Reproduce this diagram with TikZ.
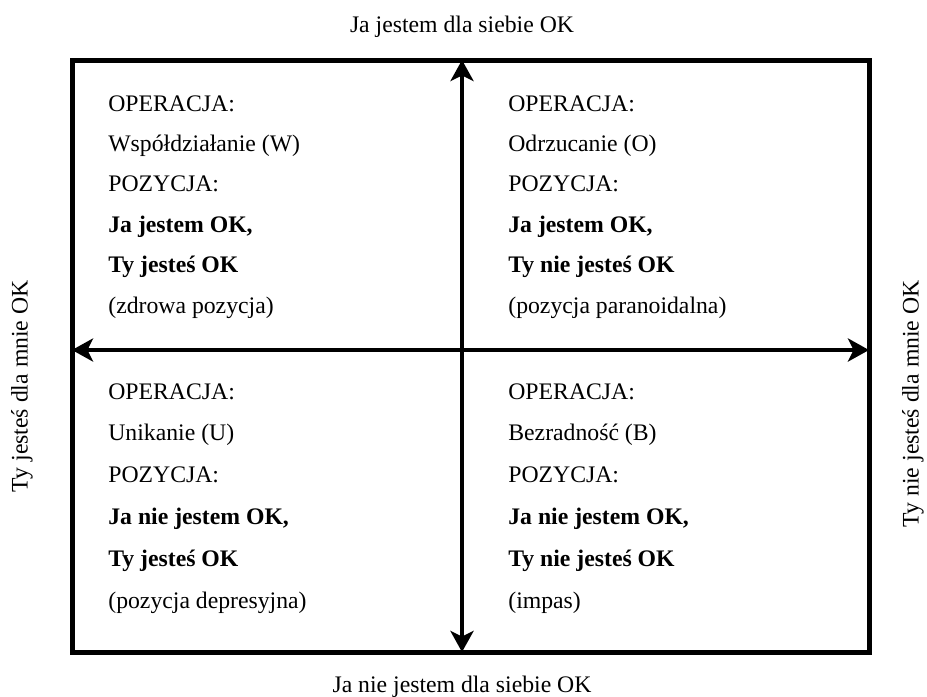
\documentclass[tikz,border=0pt]{standalone}
\usepackage{fontspec}
\setmainfont{Liberation Serif}
\usepackage{tikz}
\usetikzlibrary{arrows.meta, positioning}

\begin{document}
\begin{tikzpicture}[
    x=0.2mm, y=-0.2mm,
    frame/.style={draw=black, line width=1mm},
    arr/.style={draw=black, line width=0.8mm, {Stealth[length=4.2mm, width=4.6mm, inset=1.1mm]}-{Stealth[length=4.2mm, width=4.6mm, inset=1.1mm]}},
    label/.style={font=\fontsize{13.5pt}{16pt}\selectfont, inner sep=0pt},
    quad/.style={font=\fontsize{13.5pt}{23pt}\selectfont, align=left, anchor=north west, inner sep=0pt},
    quadlow/.style={quad, font=\fontsize{13.5pt}{23.8pt}\selectfont}
]
    \useasboundingbox (0,0) rectangle (927,696);

    % frame and axes
    \coordinate (nw) at (72,60);
    \coordinate (se) at (869,652);
    \coordinate (top) at (462,60);
    \coordinate (bottom) at (462,652);
    \coordinate (left) at (72,350);
    \coordinate (right) at (869,350);
    \draw [frame] (nw) rectangle (se);
    \draw [arr] (top) -- (bottom);
    \draw [arr] (left) -- (right);

    \node [label, anchor=base] (lab_top) at (462,32) {Ja jestem dla siebie OK};
    \node [label, anchor=base] (lab_bottom) at (462,692) {Ja nie jestem dla siebie OK};
    \node [label, rotate=90, anchor=east] (lab_left) at (22,280) {Ty jesteś dla mnie OK};
    \node [label, rotate=90, anchor=east] (lab_right) at (913,280) {Ty nie jesteś dla mnie OK};

    % quadrants
    \node [quad] (q_ww) at (108,95) {OPERACJA:\\ Współdziałanie (W)\\ POZYCJA:\\ \textbf{Ja jestem OK,}\\ \textbf{Ty jesteś OK}\\ (zdrowa pozycja)};
    \node [quad] (q_oo) at (508,95) {OPERACJA:\\ Odrzucanie (O)\\ POZYCJA:\\ \textbf{Ja jestem OK,}\\ \textbf{Ty nie jesteś OK}\\ (pozycja paranoidalna)};
    \node [quadlow] (q_uu) at (108,383) {OPERACJA:\\ Unikanie (U)\\ POZYCJA:\\ \textbf{Ja nie jestem OK,}\\ \textbf{Ty jesteś OK}\\ (pozycja depresyjna)};
    \node [quadlow] (q_bb) at (508,383) {OPERACJA:\\ Bezradność (B)\\ POZYCJA:\\ \textbf{Ja nie jestem OK,}\\ \textbf{Ty nie jesteś OK}\\ (impas)};
\end{tikzpicture}
\end{document}
